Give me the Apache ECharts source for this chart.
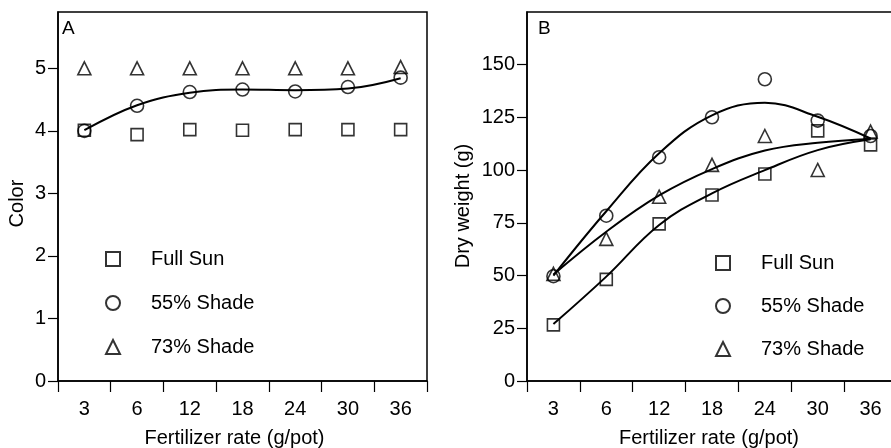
<!DOCTYPE html>
<html>
<head>
<meta charset="utf-8">
<script src="https://cdn.jsdelivr.net/npm/echarts@6/dist/echarts.min.js"></script>
<style>
html,body{margin:0;padding:0;background:#fff;}
#chart{width:891px;height:448px;}
</style>
</head>
<body>
<div id="chart"></div>
<script>
// Categories (fertilizer rate, g/pot)
const categories = ['3', '6', '12', '18', '24', '30', '36'];

// Panel A: Color
const colorFullSun = [4.01, 3.94, 4.02, 4.01, 4.02, 4.02, 4.02];
const color55Shade = [4.0, 4.40, 4.62, 4.66, 4.63, 4.70, 4.85];
const color73Shade = [5.0, 5.0, 5.0, 5.0, 5.0, 5.0, 5.02];
const color55Fit   = [4.01, 4.41, 4.61, 4.66, 4.65, 4.675, 4.84];
const yTicksA = [0, 1, 2, 3, 4, 5];

// Panel B: Dry weight (g)
const dryFullSun = [26.6, 48.2, 74.5, 88.2, 98.2, 118.6, 112.0];
const dry55Shade = [49.7, 78.4, 106.1, 125.1, 143.1, 123.5, 116.2];
const dry73Shade = [50.8, 67.4, 87.4, 102.5, 116.2, 100.1, 118.3];
const dryFullSunFit = [27.0, 49.5, 74.0, 89.0, 100.0, 109.5, 114.6];
const dry55Fit      = [50.0, 80.5, 108.0, 126.0, 132.0, 125.3, 115.0];
const dry73Fit      = [50.5, 70.8, 88.0, 100.5, 109.3, 113.0, 114.8];
const yTicksB = [0, 25, 50, 75, 100, 125, 150];

const names = ['Full Sun', '55% Shade', '73% Shade'];
const symbols = ['rect', 'circle', 'triangle'];

const FONT = 'Liberation Sans, Arial, sans-serif';
const BLACK = '#000';

function xAxisCfg(gridIndex, shiftPad) {
  return {
    type: 'category', gridIndex: gridIndex, data: categories, boundaryGap: true,
    name: 'Fertilizer rate (g/pot)', nameLocation: 'middle', nameGap: 47,
    nameTextStyle: {color: BLACK, fontSize: 20, fontFamily: FONT, padding: [0, shiftPad, 0, 0]},
    axisLine: {lineStyle: {color: BLACK, width: 1.5}},
    axisTick: {show: true, inside: false, length: 11, alignWithLabel: false, lineStyle: {color: BLACK, width: 1.2}},
    axisLabel: {color: BLACK, fontSize: 20, fontFamily: FONT, margin: 18, interval: 0},
    splitLine: {show: false}
  };
}
function yAxisCfg(gridIndex, name, max, interval, ticks, gap, pad) {
  return {
    type: 'value', gridIndex: gridIndex, min: 0, max: max, interval: interval,
    name: name, nameLocation: 'middle', nameGap: gap,
    nameTextStyle: {color: BLACK, fontSize: 20, fontFamily: FONT, padding: [0, pad, 0, 0]},
    axisLine: {show: true, lineStyle: {color: BLACK, width: 1.5}},
    axisTick: {show: true, length: 10, customValues: ticks, lineStyle: {color: BLACK, width: 1.2}},
    axisLabel: {color: BLACK, fontSize: 20, fontFamily: FONT, margin: 12, customValues: ticks},
    splitLine: {show: false}
  };
}
function scatterSeries(idx, data, k, size) {
  return {
    type: 'scatter', name: names[k], xAxisIndex: idx, yAxisIndex: idx,
    data: data, symbol: symbols[k], symbolSize: size,
    itemStyle: {color: 'rgba(255,255,255,0)', borderColor: BLACK, borderWidth: 1.6},
    z: 3
  };
}
function fitSeries(idx, data, nm) {
  return {
    type: 'line', name: nm, xAxisIndex: idx, yAxisIndex: idx,
    data: data, smooth: 0.4, showSymbol: false, symbol: 'none',
    lineStyle: {color: BLACK, width: 2},
    z: 2, silent: true
  };
}
function legendCfg(left, top, gap) {
  return {
    orient: 'vertical', left: left, top: top, data: names,
    itemWidth: 14, itemHeight: 14, itemGap: gap, padding: 0,
    textStyle: {color: BLACK, fontSize: 20, fontFamily: FONT, padding: [0, 0, 0, 26]},
    selectedMode: false
  };
}

const chart = echarts.init(document.getElementById('chart'), null, {renderer: 'canvas'});
chart.setOption({
  animation: false,
  backgroundColor: '#fff',
  title: [
    {text: 'A', left: 62, top: 19, padding: 0, textStyle: {fontSize: 19, fontWeight: 'normal', color: BLACK, fontFamily: FONT}},
    {text: 'B', left: 538, top: 19, padding: 0, textStyle: {fontSize: 19, fontWeight: 'normal', color: BLACK, fontFamily: FONT}}
  ],
  grid: [
    {left: 58, top: 12, width: 369, height: 369, show: true, borderColor: BLACK, borderWidth: 1.5, backgroundColor: 'transparent', containLabel: false, outerBoundsMode: 'none'},
    {left: 527, top: 12, width: 370, height: 369, show: true, borderColor: BLACK, borderWidth: 1.5, backgroundColor: 'transparent', containLabel: false, outerBoundsMode: 'none'}
  ],
  xAxis: [xAxisCfg(0, 16), xAxisCfg(1, 6)],
  yAxis: [
    yAxisCfg(0, 'Color', 5.9, 1, yTicksA, 31, 14),
    yAxisCfg(1, 'Dry weight (g)', 175, 25, yTicksB, 54, 19)
  ],
  legend: [legendCfg(105, 249, 24), legendCfg(715, 253, 23)],
  series: [
    fitSeries(0, color55Fit, 'fitA55'),
    scatterSeries(0, colorFullSun, 0, 12),
    scatterSeries(0, color55Shade, 1, 13),
    scatterSeries(0, color73Shade, 2, 13),
    fitSeries(1, dryFullSunFit, 'fitBFull'),
    fitSeries(1, dry55Fit, 'fitB55'),
    fitSeries(1, dry73Fit, 'fitB73'),
    scatterSeries(1, dryFullSun, 0, 12),
    scatterSeries(1, dry55Shade, 1, 13),
    scatterSeries(1, dry73Shade, 2, 13)
  ]
});
</script>
</body>
</html>
